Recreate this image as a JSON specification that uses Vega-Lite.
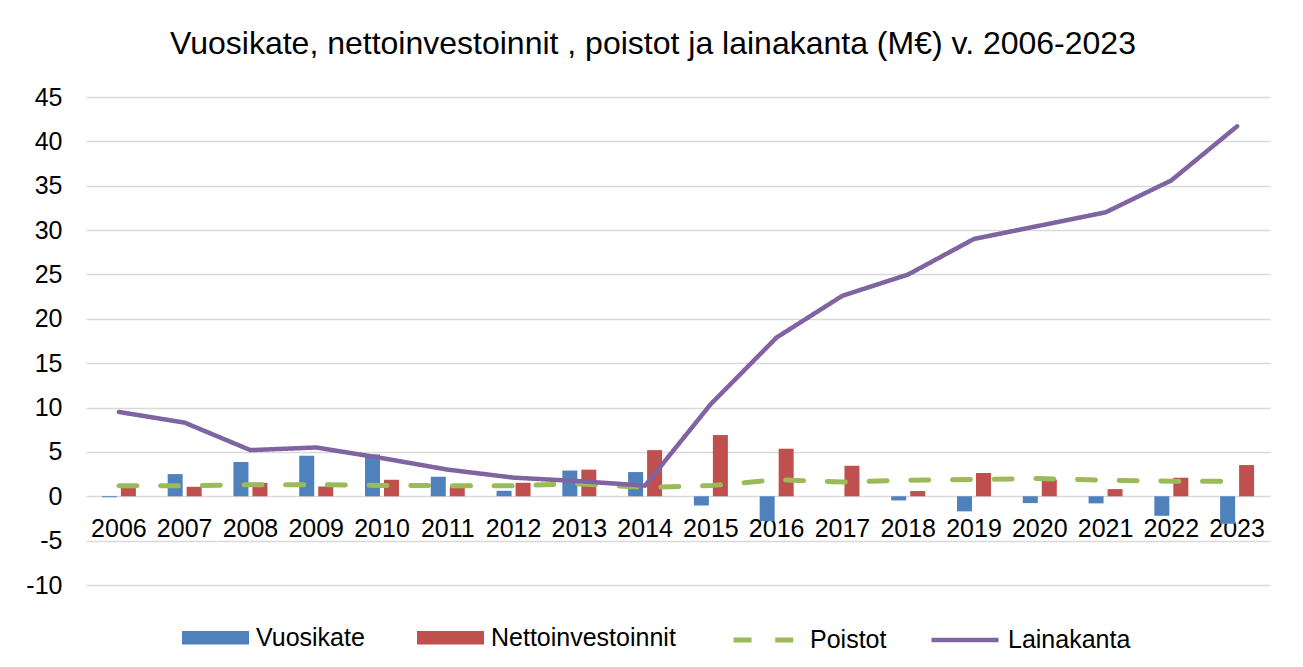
{
  "$schema": "https://vega.github.io/schema/vega-lite/v6.json",
  "width": 1184,
  "height": 488,
  "autosize": {"type": "none"},
  "padding": {"left": 86, "top": 97, "right": 33, "bottom": 82},
  "background": "white",
  "title": {
    "text": "Vuosikate, nettoinvestoinnit , poistot ja lainakanta (M€) v. 2006-2023",
    "font": "Liberation Sans",
    "fontSize": 32,
    "fontWeight": "normal",
    "color": "#000000",
    "anchor": "middle",
    "dx": -25,
    "offset": 24
  },
  "config": {
    "view": {"stroke": null},
    "font": "Liberation Sans"
  },
  "datasets": {
    "rows": [
      {"year": "2006", "serie": "Vuosikate", "value": -0.1},
      {"year": "2007", "serie": "Vuosikate", "value": 2.5},
      {"year": "2008", "serie": "Vuosikate", "value": 3.86},
      {"year": "2009", "serie": "Vuosikate", "value": 4.57},
      {"year": "2010", "serie": "Vuosikate", "value": 4.72},
      {"year": "2011", "serie": "Vuosikate", "value": 2.2},
      {"year": "2012", "serie": "Vuosikate", "value": 0.62},
      {"year": "2013", "serie": "Vuosikate", "value": 2.9},
      {"year": "2014", "serie": "Vuosikate", "value": 2.73},
      {"year": "2015", "serie": "Vuosikate", "value": -1.04},
      {"year": "2016", "serie": "Vuosikate", "value": -2.8},
      {"year": "2017", "serie": "Vuosikate", "value": 0},
      {"year": "2018", "serie": "Vuosikate", "value": -0.47},
      {"year": "2019", "serie": "Vuosikate", "value": -1.7},
      {"year": "2020", "serie": "Vuosikate", "value": -0.77},
      {"year": "2021", "serie": "Vuosikate", "value": -0.8},
      {"year": "2022", "serie": "Vuosikate", "value": -2.2},
      {"year": "2023", "serie": "Vuosikate", "value": -3.1},
      {"year": "2006", "serie": "Nettoinvestoinnit", "value": 1.04},
      {"year": "2007", "serie": "Nettoinvestoinnit", "value": 1.07},
      {"year": "2008", "serie": "Nettoinvestoinnit", "value": 1.52},
      {"year": "2009", "serie": "Nettoinvestoinnit", "value": 1.1},
      {"year": "2010", "serie": "Nettoinvestoinnit", "value": 1.86},
      {"year": "2011", "serie": "Nettoinvestoinnit", "value": 1.07},
      {"year": "2012", "serie": "Nettoinvestoinnit", "value": 1.52},
      {"year": "2013", "serie": "Nettoinvestoinnit", "value": 3.0},
      {"year": "2014", "serie": "Nettoinvestoinnit", "value": 5.2},
      {"year": "2015", "serie": "Nettoinvestoinnit", "value": 6.9},
      {"year": "2016", "serie": "Nettoinvestoinnit", "value": 5.36},
      {"year": "2017", "serie": "Nettoinvestoinnit", "value": 3.44},
      {"year": "2018", "serie": "Nettoinvestoinnit", "value": 0.59},
      {"year": "2019", "serie": "Nettoinvestoinnit", "value": 2.62},
      {"year": "2020", "serie": "Nettoinvestoinnit", "value": 1.86},
      {"year": "2021", "serie": "Nettoinvestoinnit", "value": 0.81},
      {"year": "2022", "serie": "Nettoinvestoinnit", "value": 2.09},
      {"year": "2023", "serie": "Nettoinvestoinnit", "value": 3.52},
      {"year": "2006", "serie": "Poistot", "value": 1.18},
      {"year": "2007", "serie": "Poistot", "value": 1.2},
      {"year": "2008", "serie": "Poistot", "value": 1.3},
      {"year": "2009", "serie": "Poistot", "value": 1.3},
      {"year": "2010", "serie": "Poistot", "value": 1.22},
      {"year": "2011", "serie": "Poistot", "value": 1.2},
      {"year": "2012", "serie": "Poistot", "value": 1.2},
      {"year": "2013", "serie": "Poistot", "value": 1.4},
      {"year": "2014", "serie": "Poistot", "value": 1.0},
      {"year": "2015", "serie": "Poistot", "value": 1.2},
      {"year": "2016", "serie": "Poistot", "value": 1.86},
      {"year": "2017", "serie": "Poistot", "value": 1.6},
      {"year": "2018", "serie": "Poistot", "value": 1.8},
      {"year": "2019", "serie": "Poistot", "value": 1.9},
      {"year": "2020", "serie": "Poistot", "value": 2.0},
      {"year": "2021", "serie": "Poistot", "value": 1.8},
      {"year": "2022", "serie": "Poistot", "value": 1.7},
      {"year": "2023", "serie": "Poistot", "value": 1.7},
      {"year": "2006", "serie": "Lainakanta", "value": 9.5},
      {"year": "2007", "serie": "Lainakanta", "value": 8.3},
      {"year": "2008", "serie": "Lainakanta", "value": 5.2},
      {"year": "2009", "serie": "Lainakanta", "value": 5.5},
      {"year": "2010", "serie": "Lainakanta", "value": 4.3},
      {"year": "2011", "serie": "Lainakanta", "value": 3.0},
      {"year": "2012", "serie": "Lainakanta", "value": 2.1},
      {"year": "2013", "serie": "Lainakanta", "value": 1.7},
      {"year": "2014", "serie": "Lainakanta", "value": 1.2},
      {"year": "2015", "serie": "Lainakanta", "value": 10.4},
      {"year": "2016", "serie": "Lainakanta", "value": 17.9},
      {"year": "2017", "serie": "Lainakanta", "value": 22.6},
      {"year": "2018", "serie": "Lainakanta", "value": 25.0},
      {"year": "2019", "serie": "Lainakanta", "value": 29.0},
      {"year": "2020", "serie": "Lainakanta", "value": 30.5},
      {"year": "2021", "serie": "Lainakanta", "value": 32.0},
      {"year": "2022", "serie": "Lainakanta", "value": 35.6},
      {"year": "2023", "serie": "Lainakanta", "value": 41.7}
    ]
  },
  "data": {"name": "rows"},
  "encoding": {
    "x": {
      "field": "year",
      "type": "nominal",
      "sort": null,
      "scale": {"type": "band", "paddingInner": 0, "paddingOuter": 0},
      "axis": {
        "title": null,
        "orient": "bottom",
        "offset": -88.7,
        "domain": false,
        "ticks": false,
        "labelAngle": 0,
        "labelFont": "Liberation Sans",
        "labelFontSize": 25,
        "labelColor": "#000000",
        "labelBaseline": "alphabetic",
        "labelPadding": 40,
        "grid": false
      }
    },
    "y": {
      "field": "value",
      "type": "quantitative",
      "scale": {"domain": [-10, 45], "nice": false, "zero": false},
      "axis": {
        "title": null,
        "values": [-10, -5, 0, 5, 10, 15, 20, 25, 30, 35, 40, 45],
        "labelExpr": "datum.value + ''",
        "domain": false,
        "ticks": false,
        "labelFont": "Liberation Sans",
        "labelFontSize": 25,
        "labelColor": "#000000",
        "labelPadding": 24,
        "grid": true,
        "gridColor": "#d9d9d9",
        "gridWidth": 1.3
      }
    }
  },
  "layer": [
    {
      "transform": [{"filter": "datum.serie === 'Vuosikate' || datum.serie === 'Nettoinvestoinnit'"}],
      "mark": {"type": "bar"},
      "encoding": {
        "xOffset": {
          "field": "serie",
          "type": "nominal",
          "sort": ["Vuosikate", "Nettoinvestoinnit"],
          "scale": {"domain": ["Vuosikate", "Nettoinvestoinnit"], "paddingInner": 0.21, "paddingOuter": 0.837}
        },
        "fill": {
          "field": "serie",
          "type": "nominal",
          "scale": {"domain": ["Vuosikate", "Nettoinvestoinnit"], "range": ["#4F81BD", "#C0504D"]},
          "legend": {
            "title": null,
            "orient": "none",
            "direction": "horizontal",
            "legendX": 96,
            "legendY": 507,
            "padding": 0,
            "symbolType": "M-1,-0.2H1V0.2H-1Z",
            "symbolSize": 4489,
            "symbolStrokeWidth": 0,
            "labelFont": "Liberation Sans",
            "labelFontSize": 25,
            "labelColor": "#000000",
            "labelOffset": 7,
            "labelLimit": 400,
            "columnPadding": 52
          }
        }
      }
    },
    {
      "transform": [{"filter": "datum.serie === 'Poistot' || datum.serie === 'Lainakanta'"}],
      "mark": {"type": "line", "strokeCap": "round", "strokeJoin": "round"},
      "encoding": {
        "stroke": {
          "field": "serie",
          "type": "nominal",
          "sort": ["Poistot", "Lainakanta"],
          "scale": {"domain": ["Poistot", "Lainakanta"], "range": ["#9BBB59", "#8064A2"]},
          "legend": {
            "title": null,
            "orient": "none",
            "direction": "horizontal",
            "legendX": 645,
            "legendY": 507,
            "padding": 0,
            "symbolType": "stroke",
            "symbolSize": 4489,
            "symbolStrokeWidth": 5,
            "labelFont": "Liberation Sans",
            "labelFontSize": 25,
            "labelColor": "#000000",
            "labelOffset": 7,
            "labelLimit": 400,
            "columnPadding": 35
          }
        },
        "strokeDash": {
          "field": "serie",
          "type": "nominal",
          "sort": ["Poistot", "Lainakanta"],
          "scale": {"domain": ["Poistot", "Lainakanta"], "range": [[18, 23.7], [1, 0]]},
          "legend": null
        },
        "strokeWidth": {
          "field": "serie",
          "type": "nominal",
          "scale": {"domain": ["Poistot", "Lainakanta"], "range": [5, 4.5]},
          "legend": null
        }
      }
    }
  ]
}
